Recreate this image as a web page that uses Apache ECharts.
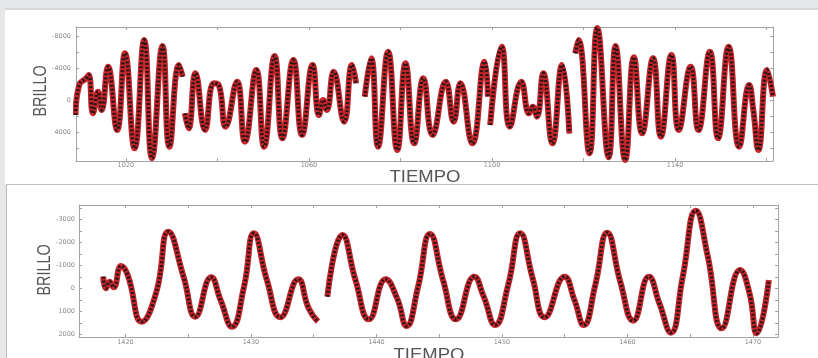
<!DOCTYPE html>
<html>
<head>
<meta charset="utf-8">
<script src="https://cdn.jsdelivr.net/npm/echarts@6/dist/echarts.min.js"></script>
<style>
  html, body { margin: 0; padding: 0; width: 818px; height: 358px; overflow: hidden; background: #e6e7e8; }
  #p1 { position: absolute; left: 5px; top: 8px; width: 813px; height: 175px; background: #ffffff; border-top: 2px solid #d6d7d8; }
  #p2 { position: absolute; left: 6px; top: 184px; width: 812px; height: 174px; background: #ffffff; border-top: 1px solid #bdbdbd; border-left: 1px solid #bdbdbd; }
  #chart { position: absolute; left: 0; top: 0; width: 818px; height: 358px; }
</style>
</head>
<body>
<div id="p1"></div>
<div id="p2"></div>
<div id="chart"></div>
<script>
// ---- Panel 1 (top) : time and brightness (null = gap) ----
const topTime = [
  1009.0, 1009.8, 1011.3, 1011.9, 1012.8, 1013.9, 1014.7, 1016.1, 1018.1, 1019.8,
  1021.9, 1024.0, 1025.7, 1028.0, 1029.5, 1031.6, 1032.4, 1032.6, 1032.9, 1033.7,
  1035.2, 1037.3, 1039.2, 1040.3, 1041.8, 1044.3, 1046.0, 1048.5, 1050.2, 1052.5,
  1054.2, 1056.6, 1058.5, 1060.8, 1062.2, 1063.1, 1063.9, 1065.4, 1067.7, 1069.4,
  1070.3, 1071.0, 1072.2, 1073.6, 1075.1, 1077.3, 1079.3, 1081.1, 1083.0, 1085.0,
  1087.0, 1089.9, 1091.6, 1093.1, 1095.7, 1098.4, 1099.1, 1099.3, 1099.6, 1102.1,
  1103.9, 1106.4, 1108.1, 1108.9, 1109.8, 1111.2, 1113.2, 1115.3, 1116.9, 1117.5,
  1118.2, 1118.9, 1121.3, 1123.0, 1125.5, 1127.0, 1129.1, 1131.0, 1132.8, 1135.2,
  1136.9, 1139.2, 1140.8, 1143.4, 1145.1, 1147.6, 1149.4, 1151.7, 1154.0, 1156.2,
  1157.1, 1158.2, 1160.1, 1161.4
];
const topBrightness = [
  1875, -1875, -2708, -3125, 1667, -1042, 1250, -4167, 3750, -5833,
  6042, -7500, 7292, -6750, 5833, -4375, -2917, null, 1667, 3542,
  -3333, 3750, -2083, -1875, 3333, -2292, 5208, -3750, 5833, -5500,
  4792, -5000, 4375, -4375, 1875, 0, 1250, -3542, 2708, -4375,
  -2083, null, -417, -5208, 5833, -6042, 6250, -4583, 5417, -2708,
  4375, -2292, 2708, -2083, 5417, -4792, -417, null, 3125, -6667,
  3333, -2292, 1667, 833, 2083, -3333, 5417, -4375, 4167, null,
  -5833, -7500, 6667, -9000, 7167, -6750, 7500, -5333, 4167, -5208,
  4583, -5625, 3750, -4167, 3750, -6042, 4792, -6667, 5833, -1875,
  1250, 6250, -3750, -417
];

// ---- Panel 2 (bottom) ----
const bottomTime = [
  1418.23, 1418.44, 1418.73, 1419.06, 1419.65, 1420.18, 1421.31, 1422.47, 1423.42, 1424.63,
  1425.58, 1426.83, 1427.58, 1428.49, 1429.45, 1430.24, 1431.27, 1432.35, 1433.77, 1434.60,
  1435.34, 1435.70, 1436.09, 1437.29, 1438.33, 1439.41, 1440.74, 1441.65, 1442.40, 1443.32,
  1444.27, 1445.31, 1446.35, 1447.80, 1448.55, 1449.46, 1450.50, 1451.46, 1452.45, 1453.41,
  1454.99, 1455.78, 1456.52, 1457.44, 1458.39, 1459.43, 1460.47, 1461.71, 1462.55, 1463.46,
  1464.41, 1465.45, 1466.41, 1467.53, 1468.98, 1469.73, 1470.31, 1471.27
];
const bottomBrightness = [
  -506, 2, -289, -42, -970, -579, 1452, 147, -2464, -506,
  1234, -477, 509, 1669, -71, -2391, -361, 1263, -390, 872,
  1452, null, 364, -2319, -361, 1350, -390, 437, 1640, -71,
  -2362, -361, 1350, -506, 364, 1597, -144, -2391, -434, 1263,
  -506, 509, 1597, -144, -2420, -289, 1408, -506, 654, 1930,
  -506, -3377, -1376, 1742, -796, 219, 1959, -361
];

// ---- Axis ticks / labels ----
const topXTicks = [1020, 1040, 1060, 1080, 1100, 1120, 1140, 1160];
const topXLabels = [1020, 1060, 1100, 1140];
const topYTicks = [-8000, -6000, -4000, -2000, 0, 2000, 4000, 6000];
const topYLabels = [-8000, -4000, 0, 4000];
const bottomXTicks = [1420, 1425, 1430, 1435, 1440, 1445, 1450, 1455, 1460, 1465, 1470];
const bottomXLabels = [1420, 1430, 1440, 1450, 1460, 1470];
const bottomYTicks = [-3500, -3000, -2500, -2000, -1500, -1000, -500, 0, 500, 1000, 1500, 2000];
const bottomYLabels = [-3000, -2000, -1000, 0, 1000, 2000];

const xTitle = 'TIEMPO';
const yTitle = 'BRILLO';

function pairs(ts, vs) {
  return ts.map((t, i) => vs[i] === null ? [t, '-'] : [t, vs[i]]);
}

const frame = { show: true, onZero: false, lineStyle: { color: '#a3a3a3', width: 1 } };
const lab = { fontSize: 6.5, color: '#8a8a8a', fontFamily: 'DejaVu Sans', formatter: v => String(v) };
const tickStyle = { color: '#a3a3a3' };

function xAxisPair(grid, min, max, ticks, labels, margin) {
  return [
    { type: 'value', gridIndex: grid, min: min, max: max, position: 'bottom',
      axisLine: frame, splitLine: { show: false },
      axisTick: { show: true, inside: true, length: 3, customValues: ticks, lineStyle: tickStyle },
      axisLabel: Object.assign({ customValues: labels, margin: margin }, lab) },
    { type: 'value', gridIndex: grid, min: min, max: max, position: 'top',
      axisLine: frame, splitLine: { show: false },
      axisTick: { show: true, inside: true, length: 3, customValues: ticks, lineStyle: tickStyle },
      axisLabel: { show: false } }
  ];
}
function yAxisPair(grid, min, max, ticks, labels, margin) {
  return [
    { type: 'value', gridIndex: grid, min: min, max: max, inverse: true, position: 'left',
      axisLine: frame, splitLine: { show: false },
      axisTick: { show: true, inside: true, length: 3, customValues: ticks, lineStyle: tickStyle },
      axisLabel: Object.assign({ customValues: labels, margin: margin }, lab) },
    { type: 'value', gridIndex: grid, min: min, max: max, inverse: true, position: 'right',
      axisLine: frame, splitLine: { show: false },
      axisTick: { show: true, inside: true, length: 3, customValues: ticks, lineStyle: tickStyle },
      axisLabel: { show: false } }
  ];
}

function curve(xi, yi, data) {
  return [
    { type: 'line', xAxisIndex: xi, yAxisIndex: yi, data: data, smooth: 0.5, showSymbol: false,
      connectNulls: false, lineStyle: { color: '#c4262b', width: 6 }, silent: true, z: 2 },
    { type: 'line', xAxisIndex: xi, yAxisIndex: yi, data: data, smooth: 0.5, showSymbol: false,
      connectNulls: false, lineStyle: { color: '#2a1616', width: 3.5, type: [2, 2] }, silent: true, z: 3 }
  ];
}

const chart = echarts.init(document.getElementById('chart'), null, { renderer: 'canvas' });
chart.setOption({
  animation: false,
  backgroundColor: 'transparent',
  grid: [
    { left: 76, top: 27, width: 697, height: 134 },
    { left: 79, top: 205, width: 699, height: 132 }
  ],
  xAxis: [].concat(
    xAxisPair(0, 1009.1, 1161.4, topXTicks, topXLabels, 1),
    xAxisPair(1, 1416.3, 1472.0, bottomXTicks, bottomXLabels, 2)
  ),
  yAxis: [].concat(
    yAxisPair(0, -9125, 7625, topYTicks, topYLabels, 5),
    yAxisPair(1, -3624, 2118, bottomYTicks, bottomYLabels, 4)
  ),
  series: [].concat(
    curve(0, 0, pairs(topTime, topBrightness)),
    curve(2, 2, pairs(bottomTime, bottomBrightness))
  ),
  graphic: [
    { type: 'text', x: 41, y: 91, rotation: Math.PI / 2, scaleX: 0.8,
      style: { text: yTitle, font: '18px "Liberation Sans"', fill: '#555555', align: 'center', verticalAlign: 'middle' } },
    { type: 'text', x: 45, y: 270, rotation: Math.PI / 2, scaleX: 0.8,
      style: { text: yTitle, font: '18px "Liberation Sans"', fill: '#555555', align: 'center', verticalAlign: 'middle' } },
    { type: 'text', x: 425, y: 177.5, scaleY: 0.88,
      style: { text: xTitle, font: '18.5px "Liberation Sans"', fill: '#555555', align: 'center', verticalAlign: 'middle' } },
    { type: 'text', x: 429, y: 356, scaleY: 0.88,
      style: { text: xTitle, font: '18.5px "Liberation Sans"', fill: '#555555', align: 'center', verticalAlign: 'middle' } }
  ]
});
</script>
</body>
</html>
